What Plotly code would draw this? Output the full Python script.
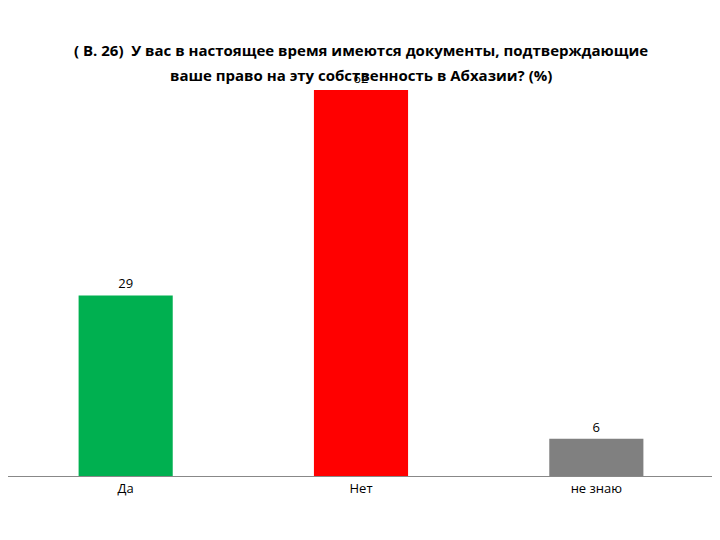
import plotly.graph_objects as go

categories = ["Да", "Нет", "не знаю"]
values = [29, 62, 6]
colors = ["#00B050", "#FF0000", "#808080"]

title_lines = [
    "( В. 26)  У вас в настоящее время имеются документы, подтверждающие",
    "ваше право на эту собственность в Абхазии? (%)",
]

fig = go.Figure(go.Bar(
    x=categories, y=values,
    marker=dict(color=colors, line=dict(width=0)),
    width=0.4,
    text=[str(v) for v in values],
    textposition="outside",
    textfont=dict(size=13, color="#000000", family="Liberation Sans Narrow, Open Sans, sans-serif"),
    cliponaxis=False,
))

plot_top, plot_bottom = 82, 468
title_y_px = [42, 67]
annotations = []
for line, ypx in zip(title_lines, title_y_px):
    annotations.append(dict(
        text=line, xref="paper", yref="paper", x=0.5,
        y=(plot_bottom - ypx) / (plot_bottom - plot_top),
        xanchor="center", yanchor="middle", showarrow=False,
        font=dict(size=15, color="#000000", family="Open Sans, sans-serif", weight="bold"),
        bgcolor="rgba(0,0,0,0)",
    ))

fig.update_layout(
    width=720, height=540,
    paper_bgcolor="white", plot_bgcolor="white",
    margin=dict(l=0, r=14, t=plot_top, b=540 - plot_bottom),
    annotations=annotations,
    showlegend=False,
    bargap=0.6,
)
fig.update_xaxes(showline=True, linecolor="#888888", linewidth=1, ticks="",
                 tickfont=dict(size=13, color="#000000", family="Liberation Sans Narrow, Open Sans, sans-serif"))
fig.update_yaxes(range=[0, 62], visible=False, showgrid=False, zeroline=False)

fig.write_html("out.html")
